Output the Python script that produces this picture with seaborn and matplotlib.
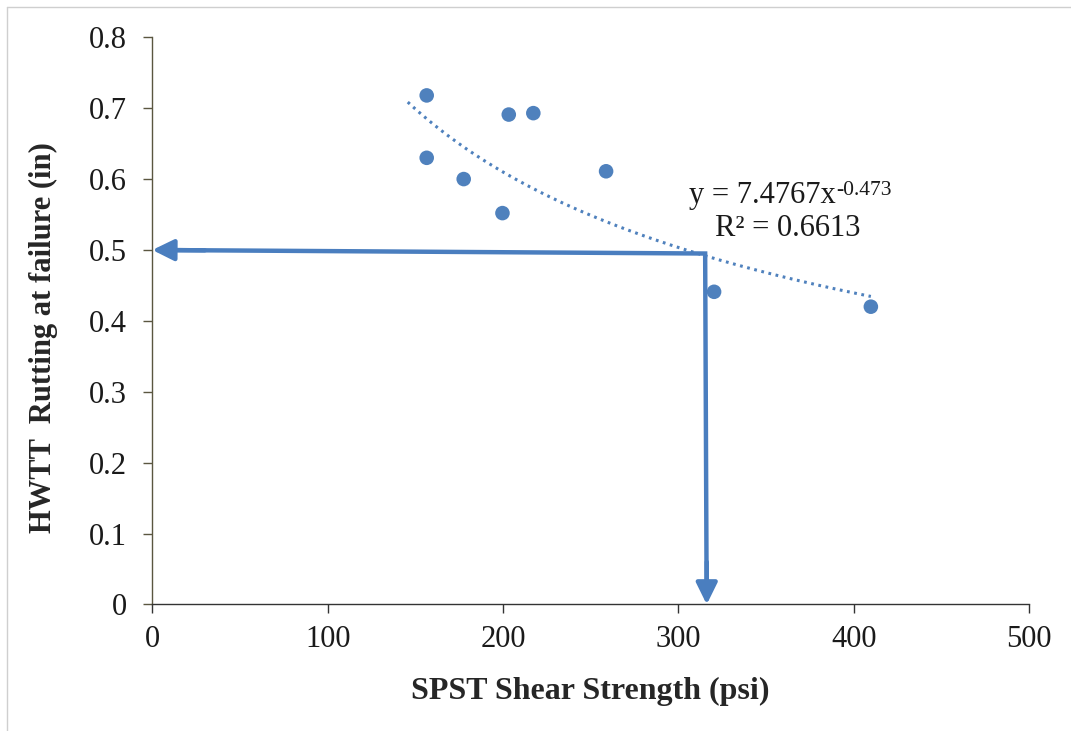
import numpy as np
import pandas as pd
import matplotlib
matplotlib.use("Agg")
import matplotlib.pyplot as plt
from matplotlib.lines import Line2D
import seaborn as sns

# SPST shear strength (psi) and HWTT rutting at failure (in)
shear_strength = [156.5, 156.5, 177.6, 199.7, 203.3, 217.3, 258.8, 320.4, 409.8]
rutting = [0.718, 0.630, 0.600, 0.552, 0.691, 0.693, 0.611, 0.441, 0.420]

# Power trend line y = a * x^b
fit_a = 7.4767
fit_b = -0.473
fit_r2 = 0.6613
fit_x_range = [145.7, 409.8]

# Design reading: rutting criterion and the corresponding shear strength
rut_limit = 0.5
rut_at_corner = 0.495
strength_at_corner = 315.3
strength_read = 316.2

x_ticks = [0, 100, 200, 300, 400, 500]
y_ticks = [0, 0.1, 0.2, 0.3, 0.4, 0.5, 0.6, 0.7, 0.8]

blue = "#4F81BD"
arrow_blue = "#4A7EBF"
text_color = "#1a1a1a"

sns.set_style("ticks")
plt.rcParams["font.family"] = ["Liberation Serif", "DejaVu Serif"]

fig = plt.figure(figsize=(10.71, 7.31), dpi=100)
ax = fig.add_axes([0.1422, 0.1731, 0.8186, 0.7759])

df = pd.DataFrame({"strength": shear_strength, "rutting": rutting})
sns.scatterplot(data=df, x="strength", y="rutting", ax=ax, s=110,
                color=blue, edgecolor="none", zorder=4)

xs = np.linspace(fit_x_range[0], fit_x_range[1], 200)
trend = pd.DataFrame({"x": xs, "y": fit_a * xs ** fit_b})
sns.lineplot(data=trend, x="x", y="y", ax=ax, color=blue, lw=2.2,
             linestyle=(0, (0.9, 1.5)), zorder=3)

# Reading arrows: from the trend line to the y-axis and down to the x-axis
ax.plot([12, strength_at_corner, strength_read - 0.1 * (strength_read - strength_at_corner)],
        [rut_limit - 0.0002, rut_at_corner, 0.03],
        color=arrow_blue, lw=3.2, solid_joinstyle="miter", solid_capstyle="butt", zorder=5)
arrow_kw = dict(arrowstyle="-|>,head_length=0.65,head_width=0.32",
                color=arrow_blue, lw=3.2, mutation_scale=20,
                shrinkA=0, shrinkB=0)
ax.annotate("", xy=(0, rut_limit), xytext=(30, rut_limit - 0.0005),
            arrowprops=arrow_kw, zorder=5)
ax.annotate("", xy=(strength_read, 0), xytext=(strength_read, 0.06),
            arrowprops=arrow_kw, zorder=5)

# Trend line equation with a superscript exponent
eq = ax.text(348.0, 0.577, f"y = {fit_a:.4f}x", ha="center", va="center",
             fontsize=22, color=text_color)
ax.annotate(f"{fit_b:g}", xy=(1.0, 0.98), xycoords=eq, ha="left", va="top",
            fontsize=15.5, color=text_color)
ax.text(362.5, 0.530, f"R² = {fit_r2:.4f}", ha="center", va="center",
        fontsize=22, color=text_color)

ax.set_xlim(0, 500)
ax.set_ylim(0, 0.8)
ax.set_xticks(x_ticks)
ax.set_yticks(y_ticks)
ax.set_xticklabels([f"{v:g}" for v in x_ticks])
ax.set_yticklabels([f"{v:g}" for v in y_ticks])
ax.tick_params(axis="both", direction="out", length=6.5, width=1.0,
               labelsize=22, colors=text_color)
ax.tick_params(axis="y", pad=12, color="#5a5640")
ax.tick_params(axis="x", pad=8, color="#333333")

sns.despine(ax=ax)
ax.spines["left"].set_color("#5a5640")
ax.spines["bottom"].set_color("#333333")
ax.spines["left"].set_linewidth(1.0)
ax.spines["bottom"].set_linewidth(1.0)

ax.set_xlabel("SPST Shear Strength (psi)", fontsize=23, fontweight="bold")
ax.set_ylabel("HWTT  Rutting at failure (in)", fontsize=22, fontweight="bold")
ax.yaxis.set_label_coords(-0.107, 0.47)
ax.xaxis.set_label_coords(0.5, -0.127)

# Chart-area frame edges
fig.add_artist(Line2D([7 / 1071, 7 / 1071], [0, 1 - 7 / 731], color="#cfcfcf", lw=1.0))
fig.add_artist(Line2D([7 / 1071, 1], [1 - 7 / 731, 1 - 7 / 731], color="#cfcfcf", lw=1.0))

fig.savefig("out.png", dpi=100)
